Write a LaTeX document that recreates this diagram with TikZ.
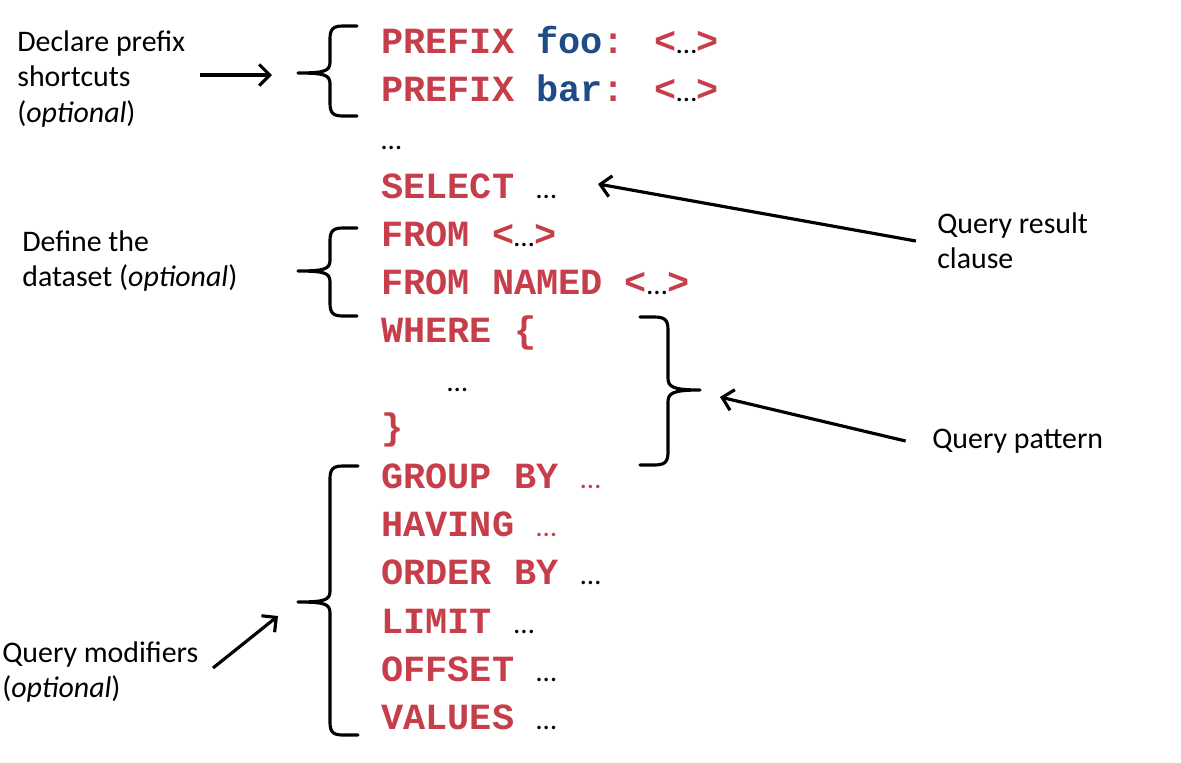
\documentclass[tikz,border=0pt]{standalone}
\usepackage{fontspec}
\setmainfont{Carlito}
\newfontfamily\codefont{Liberation Mono}
\usepackage{xcolor}
\usepackage{tikz}
\usetikzlibrary{positioning, calc, arrows.meta}

\definecolor{sparqlred}{HTML}{C63E4A}
\definecolor{sparqlblue}{HTML}{1F4C86}

% small proportional ellipsis used inside the code lines
\newcommand{\more}[1][black]{{\normalfont\fontsize{16.5}{20}\selectfont\color{#1}…}}

\tikzset{
    code/.style={anchor=base west, inner sep=0pt, text=sparqlred,
                 font=\codefont\bfseries\fontsize{21}{25}\selectfont},
    note/.style={anchor=west, align=left, inner sep=0pt,
                 font=\fontsize{17}{20}\selectfont},
    bracestroke/.style={line width=1.8pt, line cap=round, line join=round},
    pointer/.style={line width=1.8pt, -{Straight Barb[length=6pt, width=12pt]}}
}

\begin{document}
\begin{tikzpicture}[x=0.02cm, y=-0.02cm]
    \useasboundingbox (0,0) rectangle (1181,762);

    % Query lines, one per row
    \node[code] (prefa)     at (381,53)  {PREFIX \textcolor{sparqlblue}{foo}: <\more>};
    \node[code] (prefb)     at (381,101) {PREFIX \textcolor{sparqlblue}{bar}: <\more>};
    \node[code] (dots)      at (381,149) {\more};
    \node[code] (select)    at (381,198) {SELECT \more};
    \node[code] (from)      at (381,246) {FROM <\more>};
    \node[code] (fromnamed) at (381,294) {FROM NAMED <\more>};
    \node[code] (where)     at (381,342) {WHERE \{};
    \node[code] (wheredots) at (447,391) {\more};
    \node[code] (whereend)  at (381,439) {\}};
    \node[code] (groupby)   at (381,488) {GROUP BY \more[sparqlred]};
    \node[code] (having)    at (381,536) {HAVING \more[sparqlred]};
    \node[code] (orderby)   at (381,584) {ORDER BY \more};
    \node[code] (limit)     at (381,633) {LIMIT \more};
    \node[code] (offset)    at (381,681) {OFFSET \more};
    \node[code] (values)    at (381,729) {VALUES \more};

    % Explanations on the left and right
    \node[note] (declare)   at (17,79)   {Declare prefix\\shortcuts\\(\textit{optional})};
    \node[note] (dataset)   at (22,261)  {Define the\\dataset (\textit{optional})};
    \node[note] (qresult)   at (937,241) {Query result\\clause};
    \node[note] (qpattern)  at (932,441) {Query pattern};
    \node[note] (qmodifier) at (2,672)   {Query modifiers\\(\textit{optional})};

    % Brace round the prefix lines
    \draw[bracestroke] (357,26) -- (343,26) .. controls (333,26) and (330,29) .. (330,39)
        -- (330,62) .. controls (330,71) and (325,73) .. (298,73)
        .. controls (325,73) and (330,75) .. (330,84)
        -- (330,103) .. controls (330,113) and (333,116) .. (343,116) -- (357,116);

    % Brace round the dataset lines
    \draw[bracestroke] (357,228) -- (343,228) .. controls (333,228) and (330,231) .. (330,241)
        -- (330,260) .. controls (330,269) and (325,271) .. (298,271)
        .. controls (325,271) and (330,273) .. (330,282)
        -- (330,303) .. controls (330,313) and (333,316) .. (343,316) -- (357,316);

    % Right brace round the WHERE block
    \draw[bracestroke] (640,317) -- (654,317) .. controls (665,317) and (668,320) .. (668,330)
        -- (668,378) .. controls (668,387) and (673,390) .. (700,390)
        .. controls (673,390) and (668,393) .. (668,402)
        -- (668,452) .. controls (668,462) and (665,465) .. (654,465) -- (640,465);

    % Brace round the solution modifiers
    \draw[bracestroke] (358,466) -- (343,466) .. controls (333,466) and (330,469) .. (330,479)
        -- (330,591) .. controls (330,600) and (325,602) .. (298,602)
        .. controls (325,602) and (330,604) .. (330,613)
        -- (330,722) .. controls (330,732) and (333,735) .. (343,735) -- (358,735);

    % Arrow ends
    \coordinate (declfrom)  at (200,75);
    \coordinate (declto)    at (272,75);
    \coordinate (selectto)  at (598,184);
    \coordinate (patternto) at (720,397);
    \coordinate (modfrom)   at (213,668);
    \coordinate (modto)     at (278,616);

    \draw[pointer] (declfrom) -- (declto);
    \draw[pointer] ([xshift=-12]qresult.west) -- (selectto);
    \draw[pointer] ([xshift=-15]qpattern.west) -- (patternto);
    \draw[pointer] (modfrom) -- (modto);

\end{tikzpicture}
\end{document}
